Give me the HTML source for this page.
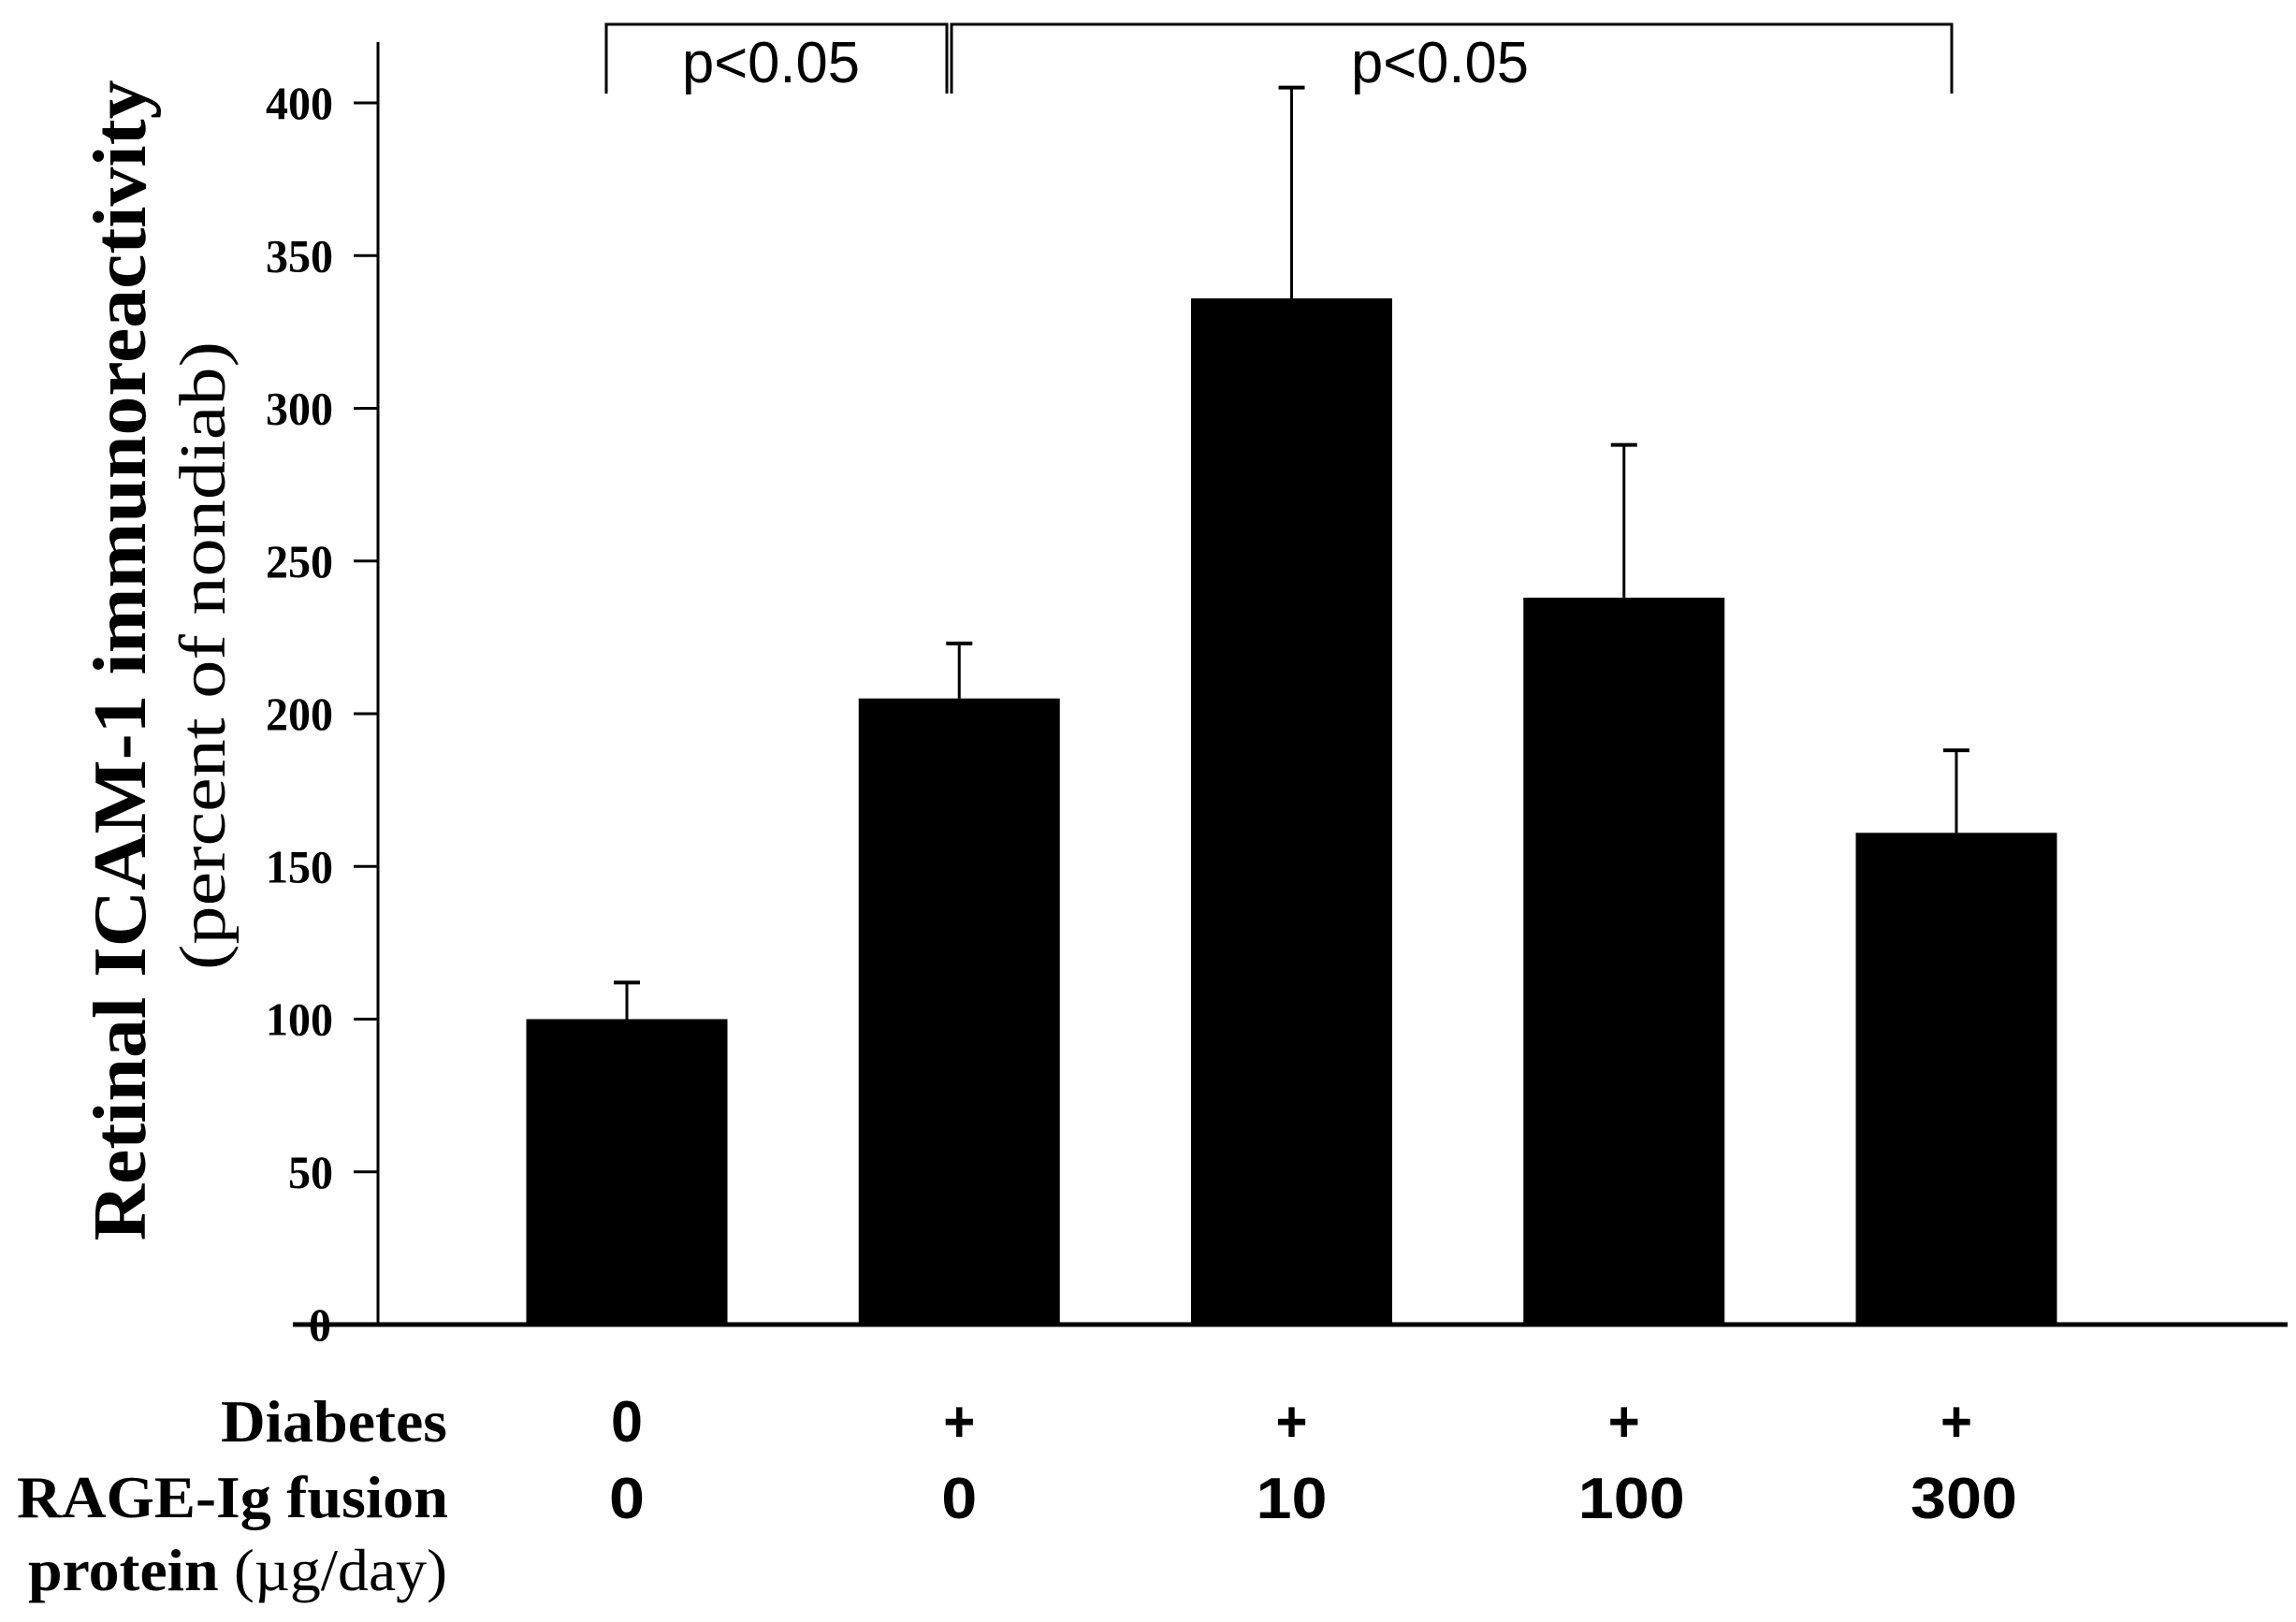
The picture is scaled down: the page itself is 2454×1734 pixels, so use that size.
<!DOCTYPE html>
<html><head><meta charset="utf-8"><style>html,body{margin:0;padding:0;background:#fff}svg{display:block}</style></head>
<body>
<svg id="chart" xmlns="http://www.w3.org/2000/svg" width="2454" height="1734" viewBox="0 0 2454 1734">
<rect x="0" y="0" width="2454" height="1734" fill="#fff"/>
<g id="plot"></g>
</svg>
<script>
const categories = ["nondiabetic", "diabetic", "rage-10", "rage-100", "rage-300"];
const values = [100, 205, 336, 238, 161];
const errorTops = [112, 223, 405, 288, 188];
const diabetesLabels = ["0", "+", "+", "+", "+"];
const doseLabels = ["0", "0", "10", "100", "300"];
const yTicks = [0, 50, 100, 150, 200, 250, 300, 350, 400];

const NS = "http://www.w3.org/2000/svg";
const g = document.getElementById("plot");
const Y0 = 1416, PPU = 3.265;
function yScale(v){ return Y0 - v*PPU; }
function xCenter(i){ return 670 + i*355.25; }
const BW = 215;
function mk(tag, attrs, parent){ const e=document.createElementNS(NS,tag); for(const k in attrs) e.setAttribute(k,attrs[k]); (parent||g).appendChild(e); return e; }
const SERIF = "font-family:'Liberation Serif',serif";
const SANS = "font-family:'Liberation Sans',sans-serif";

let a = mk("line",{x1:404,y1:45,x2:404,y2:Y0,stroke:"#000","stroke-width":3});


a = mk("line",{x1:313,y1:Y0,x2:2445,y2:Y0,stroke:"#000","stroke-width":5});



yTicks.forEach(t=>{
  const y=yScale(t);
  const tk=mk("line",{x1:378,y1:y,x2:404,y2:y,stroke:"#000","stroke-width":3});
  
  
  const s=String(t);
  const tx=mk("text",{x:t===0?342:356,y:y+17,"text-anchor":t===0?"middle":"end",style:SERIF,"font-weight":"bold","font-size":50,textLength:s.length*24,lengthAdjust:"spacingAndGlyphs"});
  tx.textContent=s;
  
  
});

values.forEach((v,i)=>{
  const cx=xCenter(i);
  const r=mk("rect",{x:cx-BW/2,y:yScale(v),width:BW,height:Y0-yScale(v),fill:"#000"});
  
  
  const e=mk("line",{x1:cx,y1:yScale(errorTops[i]),x2:cx,y2:yScale(v),stroke:"#000","stroke-width":3});
  
  
  const c=mk("line",{x1:cx-14,y1:yScale(errorTops[i]),x2:cx+14,y2:yScale(errorTops[i]),stroke:"#000","stroke-width":4});
  
  
  const d=mk("text",{x:cx,y:1541,"text-anchor":"middle",style:SANS,"font-weight":"bold","font-size":62,textLength:34,lengthAdjust:"spacingAndGlyphs"});
  d.textContent=diabetesLabels[i];
  
  
  const s=doseLabels[i];
  const q=mk("text",{x:cx+(s.length===3?8:0),y:1623,"text-anchor":"middle",style:SANS,"font-weight":"bold","font-size":62,textLength:s.length*38,lengthAdjust:"spacingAndGlyphs"});
  q.textContent=s;
  
  
});

function bracket(x1,x2,name){
  const p=mk("path",{d:`M${x1},100 L${x1},26 L${x2},26 L${x2},100`,fill:"none",stroke:"#000","stroke-width":3});
  
  
}
bracket(648,1012,'bracket-left');
bracket(1017,2086,'bracket-right');
[[824,'p-value-left'],[1539,'p-value-right']].forEach(([x,n])=>{
  const t=mk("text",{x:x,y:88,"text-anchor":"middle",style:SANS,"font-size":62,textLength:190,lengthAdjust:"spacingAndGlyphs"});
  t.textContent="p<0.05";
  
  
});

let t=mk("text",{x:0,y:0,transform:"translate(155,706) rotate(-90)","text-anchor":"middle",style:SERIF,"font-weight":"bold","font-size":80,textLength:1241,lengthAdjust:"spacingAndGlyphs"});
t.textContent="Retinal ICAM-1 immunoreactivity";


t=mk("text",{x:0,y:0,transform:"translate(240,701) rotate(-90)","text-anchor":"middle",style:SERIF,"font-size":70,textLength:672,lengthAdjust:"spacingAndGlyphs"});
t.textContent="(percent of nondiab)";



t=mk("text",{x:478,y:1541,"text-anchor":"end",style:SERIF,"font-weight":"bold","font-size":64,textLength:242,lengthAdjust:"spacingAndGlyphs"});
t.textContent="Diabetes";


t=mk("text",{x:18,y:1622,style:SERIF,"font-weight":"bold","font-size":64,textLength:461,lengthAdjust:"spacingAndGlyphs"});
t.textContent="RAGE-Ig fusion";


t=mk("text",{x:30,y:1700,style:SERIF,"font-size":64,textLength:448,lengthAdjust:"spacingAndGlyphs"});
const ts1=document.createElementNS(NS,"tspan"); ts1.setAttribute("font-weight","bold"); ts1.textContent="protein "; t.appendChild(ts1);
const ts2=document.createElementNS(NS,"tspan"); ts2.textContent="(\u00b5g/day)"; t.appendChild(ts2);


</script>
</body></html>
